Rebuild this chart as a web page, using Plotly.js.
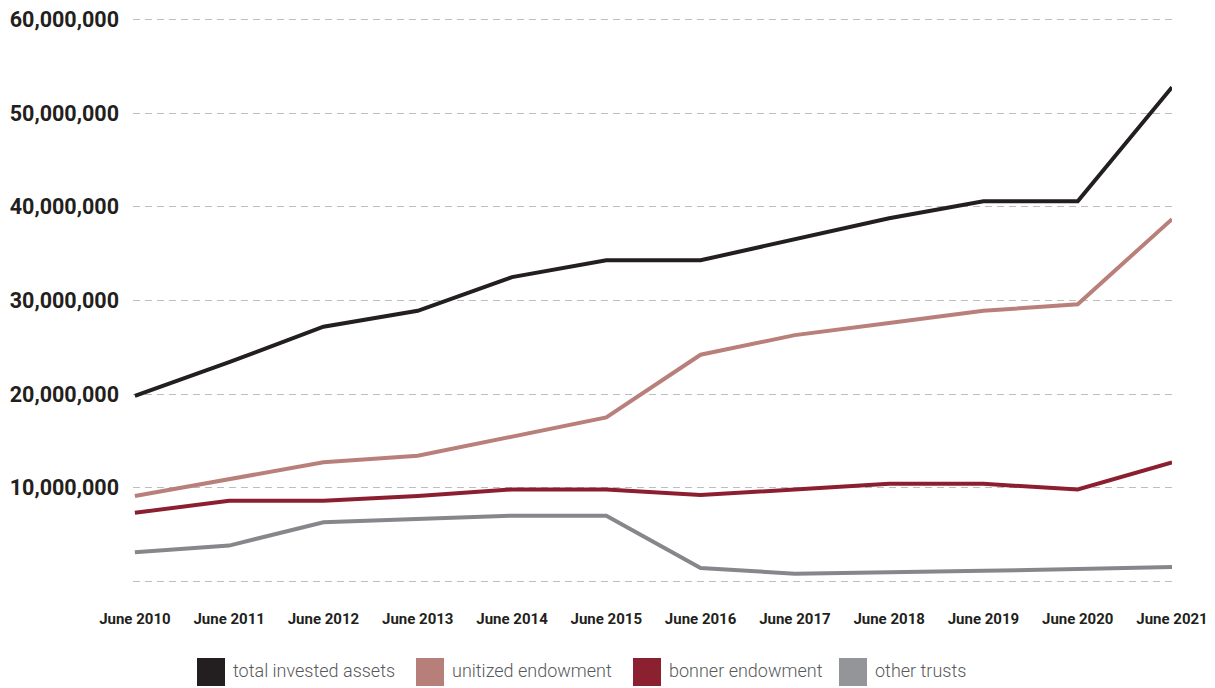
<!DOCTYPE html>
<html>
<head>
<meta charset="utf-8">
<script src="https://cdn.plot.ly/plotly-3.0.1.min.js"></script>
<style>
  html, body { margin: 0; padding: 0; background: #ffffff; }
  #chart { width: 1215px; height: 688px; }
</style>
</head>
<body>
<div id="chart"></div>
<script>
// ---- data ----
const years = ["June 2010", "June 2011", "June 2012", "June 2013", "June 2014", "June 2015",
               "June 2016", "June 2017", "June 2018", "June 2019", "June 2020", "June 2021"];

const totalInvested = [19.8, 23.4, 27.2, 28.9, 32.5, 34.3, 34.3, 36.6, 38.8, 40.6, 40.6, 52.8].map(v => v * 1e6);
const unitizedEndowment = [9.1, 10.9, 12.7, 13.4, 15.5, 17.5, 24.2, 26.3, 27.6, 28.9, 29.6, 38.7].map(v => v * 1e6);
const bonnerEndowment = [7.3, 8.6, 8.6, 9.1, 9.8, 9.8, 9.2, 9.8, 10.4, 10.4, 9.8, 12.7].map(v => v * 1e6);
const otherTrusts = [3.1, 3.8, 6.3, 6.6, 7.0, 7.0, 1.4, 0.8, 0.9, 1.1, 1.3, 1.5].map(v => v * 1e6);

const seriesNames = ["total invested assets", "unitized endowment", "bonner endowment", "other trusts"];
const yTickVals = [0, 10e6, 20e6, 30e6, 40e6, 50e6, 60e6];
const yTickText = ["", "10,000,000", "20,000,000", "30,000,000", "40,000,000", "50,000,000", "60,000,000"];

// ---- styling ----
const lineColors = ["#231f20", "#b9807b", "#8b1f2f", "#87878b"];
const swatchColors = ["#231f20", "#b77f7a", "#8b2030", "#939598"];
const seriesValues = [totalInvested, unitizedEndowment, bonnerEndowment, otherTrusts];

const FONT = 'Roboto, "Liberation Sans", sans-serif';

const traces = seriesValues.map((vals, i) => ({
  type: "scatter",
  mode: "lines",
  x: years,
  y: vals,
  name: seriesNames[i],
  line: { color: lineColors[i], width: 4, shape: "linear" },
  showlegend: false,
  hoverinfo: "x+y+name"
}));

// custom legend: square swatches + text, in paper coordinates
const W = 1215, H = 688;
const margin = { l: 133, r: 43, t: 18, b: 105 };
const pw = W - margin.l - margin.r, ph = H - margin.t - margin.b;
const px = x => (x - margin.l) / pw;
const py = y => (H - margin.b - y) / ph;

const swatchLeft = [197, 416, 633, 839];
const shapes = [];
const annotations = [];
swatchLeft.forEach((sx, i) => {
  shapes.push({
    type: "rect", xref: "paper", yref: "paper",
    x0: px(sx), x1: px(sx + 28), y0: py(686), y1: py(658),
    fillcolor: swatchColors[i], line: { width: 0 }
  });
  annotations.push({
    xref: "paper", yref: "paper",
    x: px(sx + 34), y: py(671),
    xanchor: "left", yanchor: "middle",
    text: seriesNames[i], showarrow: false,
    font: { family: FONT, size: 18, color: "#58595b", weight: 300 }
  });
});

const layout = {
  width: W, height: H,
  margin: margin,
  paper_bgcolor: "#ffffff",
  plot_bgcolor: "#ffffff",
  showlegend: false,
  xaxis: {
    type: "category",
    range: [-0.02, 11],
    showgrid: false, zeroline: false, showline: false,
    ticks: "",
    ticklabelstandoff: 25,
    tickfont: { family: FONT, size: 15, color: "#231f20", weight: "bold" },
    fixedrange: true
  },
  yaxis: {
    range: [-0.2e6, 60.2e6],
    tickvals: yTickVals,
    ticktext: yTickText,
    showgrid: true,
    gridcolor: "#bcbec0",
    gridwidth: 1,
    griddash: "7px,5px",
    zeroline: false, showline: false,
    ticks: "",
    ticklabelstandoff: 13,
    tickfont: { family: FONT, size: 21.5, color: "#231f20", weight: "bold" },
    fixedrange: true
  },
  shapes: shapes,
  annotations: annotations
};

Plotly.newPlot("chart", traces, layout, { displayModeBar: false, staticPlot: true });
</script>
</body>
</html>
